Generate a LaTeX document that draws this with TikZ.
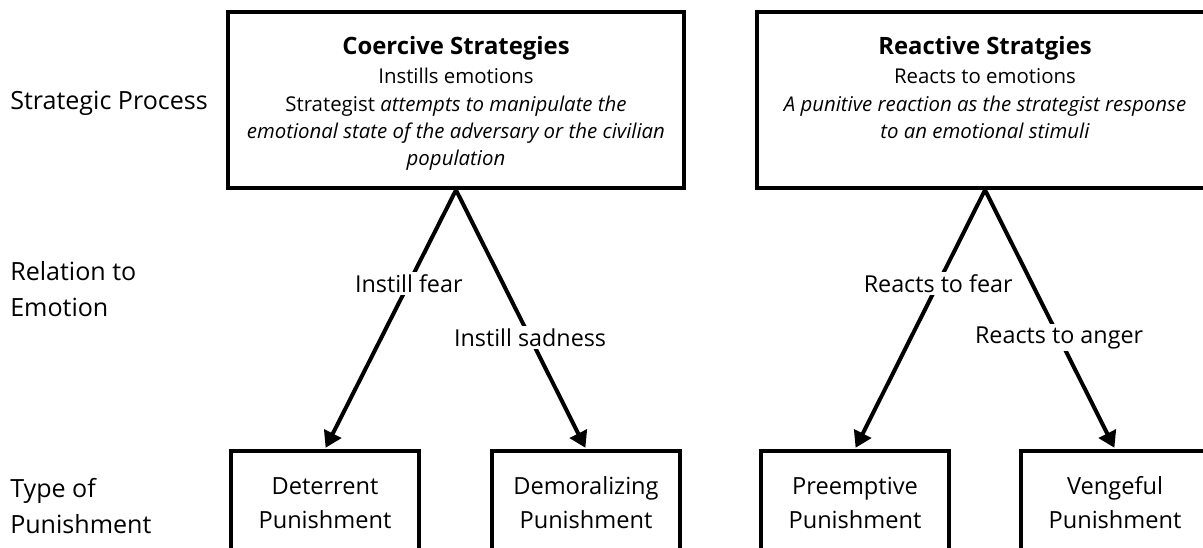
\documentclass[tikz,border=0pt]{standalone}
\usepackage{fontspec}
\setmainfont{Open Sans}
\usetikzlibrary{arrows.meta}
\begin{document}
\begin{tikzpicture}[x=0.75pt,y=-0.75pt,
  lbl/.style={anchor=west, align=left, inner sep=0pt, font=\fontsize{18.8}{26.5}\selectfont},
  topbox/.style={draw, line width=3pt, minimum width=342pt, minimum height=132pt, inner sep=0pt},
  toptext/.style={anchor=north, align=center, inner sep=0pt, font=\fontsize{15.3}{20.5}\selectfont},
  titlefont/.style={font=\bfseries\fontsize{17.9}{21}\selectfont},
  punbox/.style={draw, line width=3pt, minimum width=141pt, minimum height=78pt, align=center, inner sep=0pt, font=\fontsize{17.7}{25.5}\selectfont},
  conn/.style={line width=3pt, -{Triangle[length=12pt,width=14pt]}, shorten >=1pt},
  elbl/.style={fill=white, inner sep=2pt, font=\fontsize{17.5}{26}\selectfont}
]
\useasboundingbox (0,0) rectangle (1203,547);
\clip (0,0) rectangle (1203,547);
% row labels
\node[lbl] (l1) at (10,103) {Strategic Process};
\node[lbl] (l2) at (10,289) {Relation to\\Emotion};
\node[lbl] (l3) at (10,506) {Type of\\Punishment};
% top boxes
\node[topbox] (coer) at (456,100) {};
\node[toptext] (coert) at (456,36) {{\bfseries\fontsize{17.9}{21}\selectfont Coercive Strategies}\\[1.5pt]
Instills emotions\\
Strategist \textit{attempts to manipulate the}\\
\textit{emotional state of the adversary or the civilian}\\
\textit{population}};
\node[topbox] (reac) at (985,100) {};
\node[toptext] (react) at (985,36) {{\bfseries\fontsize{17.9}{21}\selectfont Reactive Stratgies}\\[1.5pt]
Reacts to emotions\\
\textit{A punitive reaction as the strategist response}\\
\textit{to an emotional stimuli}};
% bottom boxes
\node[punbox] (det) at (325,503) {Deterrent\\Punishment};
\node[punbox] (dem) at (586,503) {Demoralizing\\Punishment};
\node[punbox] (pre) at (855,503) {Preemptive\\Punishment};
\node[punbox] (ven) at (1115,503) {Vengeful\\Punishment};
% connectors
\draw[conn] (coer.south) -- node[elbl, pos=0.36] (e1) {Instill fear} (det.north);
\draw[conn] (coer.south) -- node[elbl, pos=0.57] (e2) {Instill sadness} (dem.north);
\draw[conn] (reac.south) -- node[elbl, pos=0.36] (e3) {Reacts to fear} (pre.north);
\draw[conn] (reac.south) -- node[elbl, pos=0.57] (e4) {Reacts to anger} (ven.north);
\end{tikzpicture}
\end{document}
